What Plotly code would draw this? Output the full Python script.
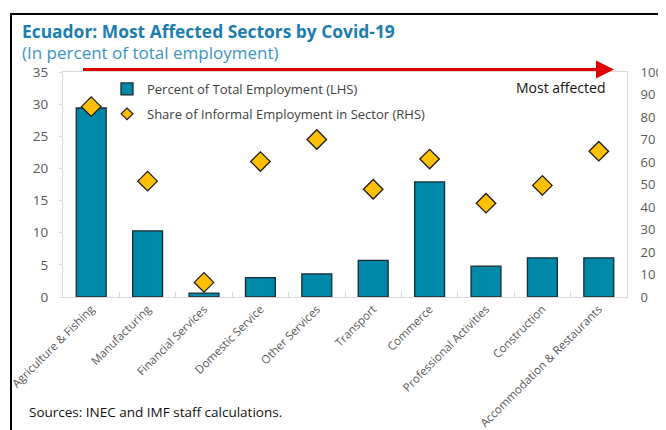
import plotly.graph_objects as go

categories = ["Agriculture & Fishing", "Manufacturing", "Financial Services", "Domestic Service",
              "Other Services", "Transport", "Commerce", "Professional Activities",
              "Construction", "Accommodation & Restaurants"]
pct_total_employment = [29.4, 10.3, 0.6, 3.0, 3.6, 5.7, 17.9, 4.8, 6.1, 6.1]
share_informal = [84.6, 51.5, 6.5, 60.2, 70.0, 47.9, 61.3, 41.7, 49.6, 64.8]
left_ticks = [0, 5, 10, 15, 20, 25, 30, 35]
right_ticks = [0, 10, 20, 30, 40, 50, 60, 70, 80, 90, 100]

FONT = "Open Sans"
OFF = 8  # page body margin
W, H = 666 - OFF, 430 - OFF
# plot area in page pixels
L, R, T, B = 63, 627, 72, 297
pw, ph = R - L, B - T

def px(x):
    return (x - L) / pw

def py(y):
    return (B - y) / ph

fig = go.Figure()
fig.add_trace(go.Bar(
    x=categories, y=pct_total_employment, name="Percent of Total Employment (LHS)",
    marker=dict(color="#0088A8", line=dict(color="#1E2A30", width=1.3)),
    width=0.53, legendgroup="a", yaxis="y"))
fig.add_trace(go.Scatter(
    x=categories, y=share_informal, name="Share of Informal Employment in Sector (RHS)",
    mode="markers",
    marker=dict(symbol="diamond", size=15, color="#FFC000", line=dict(color="#1a1a1a", width=1.3)),
    legendgroup="b", yaxis="y2", showlegend=False))
# legend entry for the diamonds (smaller symbol, as in the reference legend)
fig.add_trace(go.Scatter(
    x=[None], y=[None], name="Share of Informal Employment in Sector (RHS)",
    mode="markers",
    marker=dict(symbol="diamond", size=9, color="#FFC000", line=dict(color="#1a1a1a", width=1.2)),
    legendgroup="b", yaxis="y2", showlegend=True))

fig.update_layout(
    width=W, height=H,
    margin=dict(l=L - OFF, r=(W + OFF) - R, t=T - OFF, b=(H + OFF) - B, autoexpand=False),
    paper_bgcolor="white", plot_bgcolor="white",
    font=dict(family=FONT, size=13, color="#595959"),
    showlegend=True,
    legend=dict(x=px(107), y=py(74), xanchor="left", yanchor="top",
                bgcolor="rgba(0,0,0,0)", font=dict(size=13, color="#404040"),
                traceorder="grouped", tracegroupgap=5, itemwidth=30),
    xaxis=dict(range=[-0.5, len(categories) - 0.5], autorange=False,
               showline=True, linecolor="#D9D9D9", linewidth=1, mirror=True,
               ticks="inside", tickson="boundaries", ticklen=5, tickcolor="#D9D9D9",
               tickangle=-45, tickfont=dict(size=11.5, color="#595959"), showgrid=False),
    yaxis=dict(range=[0, 35], tickvals=left_ticks, showline=True, linecolor="#D9D9D9",
               ticks="outside", ticklen=3, tickcolor="#D9D9D9", showgrid=False,
               zeroline=False, tickfont=dict(size=13.5, color="#595959"), ticklabelstandoff=8),
    yaxis2=dict(range=[0, 100], tickvals=right_ticks, overlaying="y", side="right",
                showline=True, linecolor="#D9D9D9", showgrid=False, zeroline=False,
                ticks="", tickfont=dict(size=13, color="#595959"), ticklabelstandoff=10),
)

# red arrow "Most affected"
fig.add_shape(type="line", xref="paper", yref="paper", x0=px(83), x1=px(603),
              y0=py(69.5), y1=py(69.5), line=dict(color="#E00000", width=3))
fig.add_annotation(x=px(614), y=py(69.5), xref="paper", yref="paper", text="",
                   showarrow=True, arrowhead=2, arrowsize=1.2, arrowwidth=3, arrowcolor="#E00000",
                   ax=-14, ay=0)
fig.add_annotation(x=px(608), y=py(87), xref="paper", yref="paper", text="Most affected",
                   showarrow=False, xanchor="right", yanchor="middle",
                   font=dict(size=14, color="#111111", family=FONT))

# titles
fig.add_annotation(x=px(20), y=py(31), xref="paper", yref="paper",
                   text="<b>Ecuador: Most Affected Sectors by Covid-19</b>",
                   showarrow=False, xanchor="left", yanchor="middle",
                   font=dict(size=17.4, color="#1B7DB0", family=FONT))
fig.add_annotation(x=px(20), y=py(53), xref="paper", yref="paper",
                   text="(In percent of total employment)",
                   showarrow=False, xanchor="left", yanchor="middle",
                   font=dict(size=17, color="#3A95C4", family=FONT))
fig.add_annotation(x=px(27), y=py(412), xref="paper", yref="paper",
                   text="Sources: INEC and IMF staff calculations.",
                   showarrow=False, xanchor="left", yanchor="middle",
                   font=dict(size=13.5, color="#111111", family=FONT))

# frame
fig.add_shape(type="line", xref="paper", yref="paper", x0=px(11), x1=px(11),
              y0=py(13), y1=py(440), line=dict(color="black", width=2))
fig.add_shape(type="line", xref="paper", yref="paper", x0=px(10), x1=px(680),
              y0=py(14), y1=py(14), line=dict(color="black", width=2))

fig.write_html("out.html")
